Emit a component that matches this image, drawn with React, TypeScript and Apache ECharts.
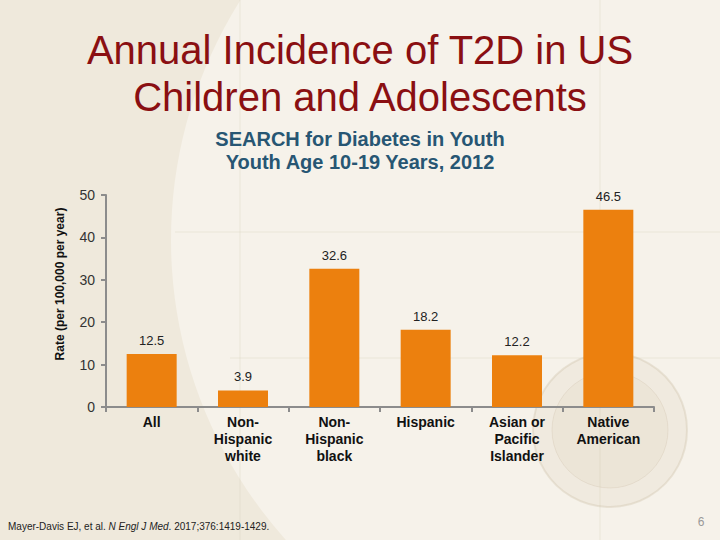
import React, { useEffect, useRef } from "react";
import * as echarts from "echarts";

const categories = ["All", "Non-\nHispanic\nwhite", "Non-\nHispanic\nblack", "Hispanic", "Asian or\nPacific\nIslander", "Native\nAmerican"];
const rates = [12.5, 3.9, 32.6, 18.2, 12.2, 46.5];
const titleLines = ["Annual Incidence of T2D in US", "Children and Adolescents"];
const subtitleLines = ["SEARCH for Diabetes in Youth", "Youth Age 10-19 Years, 2012"];
const yAxisTitle = "Rate (per 100,000 per year)";

export default function App() {
  const ref = useRef<HTMLDivElement>(null);
  useEffect(() => {
    if (!ref.current) return;
    const chart = echarts.init(ref.current, null, { renderer: "svg" });
    const font = "'Liberation Sans', Arial, sans-serif";
    const faint = "rgba(215,205,185,0.35)";
    chart.setOption({
      animation: false,
      backgroundColor: "#efe9dc",
      textStyle: { fontFamily: font },
      graphic: [
        { type: "circle", z: -10, silent: true, shape: { cx: 620, cy: 240, r: 449 }, style: { fill: "#f6f2ea" } },
        { type: "line", z: -9, silent: true, shape: { x1: 240, y1: 0, x2: 240, y2: 540 }, style: { stroke: faint, lineWidth: 1 } },
        { type: "line", z: -9, silent: true, shape: { x1: 600, y1: 0, x2: 600, y2: 540 }, style: { stroke: faint, lineWidth: 1 } },
        { type: "line", z: -9, silent: true, shape: { x1: 175, y1: 232, x2: 720, y2: 232 }, style: { stroke: faint, lineWidth: 1 } },
        { type: "line", z: -9, silent: true, shape: { x1: 230, y1: 358, x2: 720, y2: 358 }, style: { stroke: faint, lineWidth: 1 } },
        { type: "circle", z: -8, silent: true, shape: { cx: 610, cy: 430, r: 77 }, style: { fill: "rgba(210,195,170,0.16)", stroke: "rgba(200,185,160,0.3)", lineWidth: 2 } },
        { type: "circle", z: -8, silent: true, shape: { cx: 610, cy: 430, r: 58 }, style: { fill: "rgba(210,195,170,0.14)", stroke: "rgba(200,185,160,0.25)", lineWidth: 1 } },
        {
          type: "text", x: 360, y: 50,
          style: { text: titleLines[0], font: `40px ${font}`, fill: "#8a0f12", align: "center", verticalAlign: "middle" },
        },
        {
          type: "text", x: 360, y: 97,
          style: { text: titleLines[1], font: `40px ${font}`, fill: "#8a0f12", align: "center", verticalAlign: "middle" },
        },
        {
          type: "text", x: 360, y: 139,
          style: { text: subtitleLines[0], font: `bold 20px ${font}`, fill: "#275673", align: "center", verticalAlign: "middle" },
        },
        {
          type: "text", x: 360, y: 162,
          style: { text: subtitleLines[1], font: `bold 20px ${font}`, fill: "#275673", align: "center", verticalAlign: "middle" },
        },
        {
          type: "text", x: 60, y: 284, rotation: Math.PI / 2,
          style: { text: yAxisTitle, font: `bold 12px ${font}`, fill: "#111", align: "center", verticalAlign: "middle" },
        },
        {
          type: "text", x: 8, y: 526,
          style: {
            text: "{a|Mayer-Davis EJ, et al. }{i|N Engl J Med}{a|. 2017;376:1419-1429.}",
            verticalAlign: "middle",
            rich: {
              a: { fontSize: 10, fontFamily: font, fill: "#222" },
              i: { fontSize: 10, fontFamily: font, fontStyle: "italic", fill: "#222" },
            },
          },
        },
        {
          type: "text", x: 701, y: 522,
          style: { text: "6", font: `12px ${font}`, fill: "#999", align: "center", verticalAlign: "middle" },
        },
      ],
      grid: { left: 106, right: 66, top: 195, bottom: 133 },
      xAxis: {
        type: "category",
        data: categories,
        axisLine: { lineStyle: { color: "#8c8c8c", width: 2 } },
        axisTick: { show: true, length: 5, lineStyle: { color: "#8c8c8c", width: 2 } },
        axisLabel: { interval: 0, color: "#111", fontWeight: "bold", fontSize: 14, lineHeight: 17, margin: 6, fontFamily: font },
      },
      yAxis: {
        type: "value",
        min: 0, max: 50, interval: 10,
        splitLine: { show: false },
        axisLine: { show: true, lineStyle: { color: "#8c8c8c", width: 2 } },
        axisTick: { show: true, length: 5, lineStyle: { color: "#8c8c8c", width: 2 } },
        axisLabel: { color: "#333", fontSize: 14, margin: 11, fontFamily: font },
      },
      series: [
        {
          type: "bar",
          data: rates,
          barWidth: 50,
          itemStyle: { color: "#ec800e" },
          label: { show: true, position: "top", distance: 7, color: "#222", fontSize: 13, fontFamily: font, formatter: (p: any) => p.value.toFixed(1) },
        },
      ],
    });
    return () => chart.dispose();
  }, []);
  return <div ref={ref} style={{ position: "absolute", left: 0, top: 0, width: 720, height: 540 }} />;
}
